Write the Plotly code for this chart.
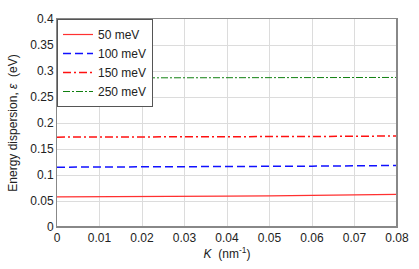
import plotly.graph_objects as go

K = [0.0, 0.01, 0.02, 0.03, 0.04, 0.05, 0.06, 0.07, 0.08]
e50 = [0.0578, 0.0579, 0.0582, 0.0587, 0.0593, 0.0600, 0.0608, 0.0617, 0.0627]
e100 = [0.1150, 0.1151, 0.1153, 0.1156, 0.1160, 0.1165, 0.1170, 0.1176, 0.1183]
e150 = [0.1728, 0.1728, 0.1730, 0.1732, 0.1735, 0.1738, 0.1741, 0.1745, 0.1750]
e250 = [0.2866, 0.2866, 0.2867, 0.2868, 0.2869, 0.2870, 0.2872, 0.2874, 0.2876]
names = ["50 meV", "100 meV", "150 meV", "250 meV"]
x_ticks = [0, 0.01, 0.02, 0.03, 0.04, 0.05, 0.06, 0.07, 0.08]
x_ticklabels = ["0", "0.01", "0.02", "0.03", "0.04", "0.05", "0.06", "0.07", "0.08"]
y_ticks = [0, 0.05, 0.1, 0.15, 0.2, 0.25, 0.3, 0.35, 0.4]
y_ticklabels = ["0", "0.05", "0.1", "0.15", "0.2", "0.25", "0.3", "0.35", "0.4"]

styles = [
    dict(color="#ff3030", width=1.2, dash="solid"),
    dict(color="#1010ff", width=1.5, dash="8px,4px"),
    dict(color="#ff1010", width=1.5, dash="8px,3px,2px,3px"),
    dict(color="#108010", width=1.0, dash="7px,2px,2px,2px"),
]

fig = go.Figure()
for nm, ys, st in zip(names, [e50, e100, e150, e250], styles):
    fig.add_trace(go.Scatter(x=K, y=ys, mode="lines", name=nm, line=st))

font = dict(family="Liberation Sans, Arial, sans-serif", size=12, color="#222")
fig.update_layout(
    width=419, height=269,
    margin=dict(l=57, r=22, t=19, b=42),
    paper_bgcolor="white", plot_bgcolor="white",
    font=font,
    showlegend=True,
    legend=dict(x=0, y=1, xanchor="left", yanchor="top",
                bgcolor="white", bordercolor="#555", borderwidth=1,
                font=dict(size=12, color="#222"), tracegroupgap=0,
                itemwidth=30),
    xaxis=dict(range=[0, 0.08], tickvals=x_ticks, ticktext=x_ticklabels,
               showgrid=True, gridcolor="#dcdcdc", gridwidth=1,
               showline=True, linecolor="#888", linewidth=1, mirror=True,
               zeroline=False, ticks="", ticklen=0,
               title=dict(text="<i>K</i>  (nm<sup>-1</sup>)", standoff=4, font=dict(size=12)),
               automargin=False),
    yaxis=dict(range=[0, 0.4], tickvals=y_ticks, ticktext=y_ticklabels,
               showgrid=True, gridcolor="#dcdcdc", gridwidth=1,
               showline=True, linecolor="#888", linewidth=1, mirror=True,
               zeroline=False, ticks="", ticklen=0,
               title=dict(text="Energy dispersion, <i>ε</i>  (eV)", standoff=10, font=dict(size=12)),
               automargin=False),
)
fig.add_shape(type="line", xref="paper", yref="paper", x0=1, x1=1, y0=0, y1=1,
              line=dict(color="#888", width=2))
fig.add_shape(type="line", xref="paper", yref="paper", x0=0, x1=1, y0=0, y1=0,
              line=dict(color="#888", width=2))
fig.write_html("out.html", config={"displayModeBar": False},
               post_script="document.body.style.margin='0px';")
